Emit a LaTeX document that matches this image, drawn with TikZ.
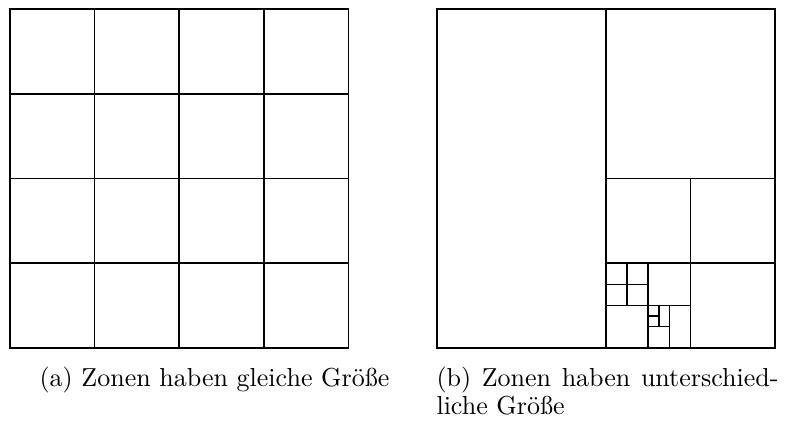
\documentclass[tikz,border=0pt]{standalone}
\begin{document}
\begin{tikzpicture}[x=0.3846pt,y=-0.3846pt,
  gridline/.style={line width=0.62pt, line cap=rect},
  captext/.style={inner sep=0pt, font=\fontsize{10}{12}\selectfont}]
\useasboundingbox (0,0) rectangle (786,422);
% left panel: uniform 4x4 grid
\begin{scope}[shift={(10,9.3)}, x=130.2pt, y=-130.2pt]
  \draw[gridline] (0,0) rectangle (1,1);
  \foreach \t in {0.25,0.5,0.75} {
    \draw[gridline] (\t,0) -- (\t,1);
    \draw[gridline] (0,\t) -- (1,\t);
  }
\end{scope}
% right panel: recursive subdivision
\begin{scope}[shift={(436.7,9.3)}, x=130.2pt, y=-130.2pt]
  \draw[gridline] (0,0) rectangle (1,1);
  \draw[gridline] (0.5,0) -- (0.5,1);
  \draw[gridline] (0.5,0.5) -- (1,0.5);
  \draw[gridline] (0.75,0.5) -- (0.75,1);
  \draw[gridline] (0.5,0.75) -- (1,0.75);
  \draw[gridline] (0.625,0.75) -- (0.625,1);
  \draw[gridline] (0.5,0.875) -- (0.75,0.875);
  \draw[gridline] (0.5625,0.75) -- (0.5625,0.875);
  \draw[gridline] (0.5,0.8125) -- (0.625,0.8125);
  \draw[gridline] (0.6875,0.875) -- (0.6875,1);
  \draw[gridline] (0.625,0.9375) -- (0.6875,0.9375);
  \draw[gridline] (0.65625,0.875) -- (0.65625,0.9375);
  \draw[gridline] (0.625,0.90625) -- (0.65625,0.90625);
\end{scope}
% captions
\node[captext, anchor=base west] (capa) at (39,387) {(a) Zonen haben gleiche Größe};
\node[captext, anchor=base west] (capb1) at (436,387) {\makebox[131.5pt][s]{(b) Zonen haben unterschied-}};
\node[captext, anchor=base west] (capb2) at (436,414) {liche Größe};
\end{tikzpicture}
\end{document}
